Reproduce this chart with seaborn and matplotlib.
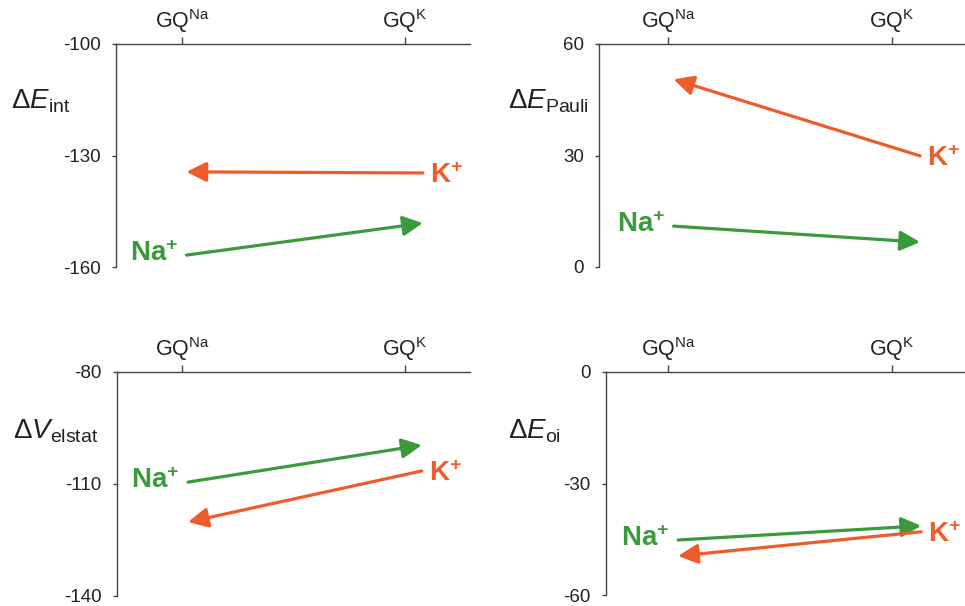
import matplotlib
matplotlib.use("Agg")
import matplotlib.pyplot as plt
import seaborn as sns

# Energy terms
ylabels = ['Δ$\\mathit{E}_{\\mathrm{int}}$', 'Δ$\\mathit{E}_{\\mathrm{Pauli}}$',
           'Δ$\\mathit{V}_{\\mathrm{elstat}}$', 'Δ$\\mathit{E}_{\\mathrm{oi}}$']
xticklabels = ['GQ$^{\\mathrm{Na}}$', 'GQ$^{\\mathrm{K}}$']
na_in_gqna = [-156.8, 11.0, -109.5, -45.2]
na_in_gqk = [-148.2, 6.7, -99.6, -41.4]
k_in_gqk = [-134.7, 29.9, -106.5, -43.0]
k_in_gqna = [-134.4, 50.5, -120.2, -49.5]
yticks = [[-160, -130, -100], [0, 30, 60], [-140, -110, -80], [-60, -30, 0]]

sns.set_style("ticks")
plt.rcParams['font.family'] = ['Liberation Sans', 'DejaVu Sans']
plt.rcParams['mathtext.fontset'] = 'custom'
plt.rcParams['mathtext.rm'] = 'Liberation Sans'
plt.rcParams['mathtext.it'] = 'Liberation Sans:italic'
plt.rcParams['mathtext.bf'] = 'Liberation Sans:bold'

GREEN = '#3A9A3C'
ORANGE = '#EF5B2B'
AXC = '#444444'

W, H = 965, 606
# panel geometry in pixels: left, right, top, bottom, tick GQNa, tick GQK
panels = [(116, 470, 44, 267, 182, 405),
          (599, 975, 44, 267, 668, 892),
          (117, 470, 372, 596, 182, 405),
          (606, 975, 372, 595, 668, 892)]
x_left_end = [0.02, 0.025, 0.027, 0.045]
x_right_end = [1.08, 1.125, 1.075, 1.13]
label_pos = [(-0.297, 0.71), (-0.243, 0.71), (-0.295, 0.702), (-0.266, 0.70)]

fig = plt.figure(figsize=(W / 100, H / 100), dpi=100)

for i in range(4):
    L, R, T, B, p0, p1 = panels[i]
    ax = fig.add_axes([L / W, 1 - B / H, (R - L) / W, (B - T) / H])
    span = p1 - p0
    ax.set_xlim((L - p0) / span, (R - p0) / span)
    ax.set_ylim(yticks[i][0], yticks[i][-1])
    sns.despine(ax=ax, top=False, right=True, bottom=True, left=False)
    for s in ['top', 'left']:
        ax.spines[s].set_color(AXC)
        ax.spines[s].set_linewidth(1.0)
    ax.xaxis.tick_top()
    ax.set_xticks([0, 1])
    ax.set_xticklabels(xticklabels, fontsize=15.5)
    ax.set_yticks(yticks[i])
    ax.set_yticklabels([str(v) for v in yticks[i]], fontsize=13.5)
    ax.tick_params(axis='x', length=5, width=1, color=AXC, pad=1.5, labelcolor='#222222')
    ax.tick_params(axis='y', length=3, width=1, color=AXC, pad=8, labelcolor='#222222')
    ax.set_ylabel(ylabels[i], fontsize=20, rotation=0, ha='left', va='baseline', color='#222222')
    ax.yaxis.set_label_coords(*label_pos[i])

    xl, xr = x_left_end[i], x_right_end[i]
    arrow = dict(arrowstyle='-|>,head_length=1.2,head_width=0.6', mutation_scale=10,
                 lw=2.3, shrinkA=0, shrinkB=0)
    # Na+ : GQNa -> GQK
    ax.annotate('', xy=(xr, na_in_gqk[i]), xytext=(xl, na_in_gqna[i]),
                arrowprops=dict(arrow, color=GREEN), annotation_clip=False)
    # K+ : GQK -> GQNa
    ax.annotate('', xy=(xl, k_in_gqna[i]), xytext=(xr, k_in_gqk[i]),
                arrowprops=dict(arrow, color=ORANGE), annotation_clip=False)

    ax.annotate('Na$^{\\mathbf{+}}$', xy=(xl, na_in_gqna[i]), xytext=(-6, -4),
                textcoords='offset points', ha='right', va='baseline',
                fontsize=20, fontweight='bold', color=GREEN, annotation_clip=False)
    ax.annotate('K$^{\\mathbf{+}}$', xy=(xr, k_in_gqk[i]), xytext=(5, -7),
                textcoords='offset points', ha='left', va='baseline',
                fontsize=20, fontweight='bold', color=ORANGE, annotation_clip=False)

fig.savefig('out.png', dpi=100)
